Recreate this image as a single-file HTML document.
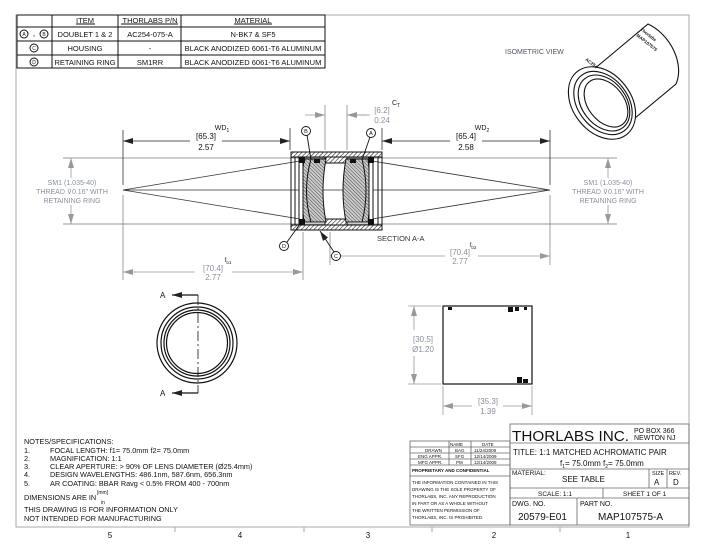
<!DOCTYPE html>
<html><head><meta charset="utf-8"><style>
html,body{margin:0;padding:0;background:#fff}
svg{display:block;font-family:"Liberation Sans",sans-serif}
.t{font-size:8px;fill:#111}
.g{font-size:8px;fill:#8a8fa0}
.s{font-size:5px;fill:#111}
</style></head><body>
<svg width="706" height="545" viewBox="0 0 706 545" xmlns="http://www.w3.org/2000/svg">
<defs>
<pattern id="h" width="3" height="3" patternUnits="userSpaceOnUse" patternTransform="rotate(45)"><rect width="3" height="3" fill="#fff"/><line x1="0" y1="0" x2="0" y2="3" stroke="#222" stroke-width="1.2"/></pattern>
<pattern id="h2" width="2.5" height="2.5" patternUnits="userSpaceOnUse" patternTransform="rotate(-45)"><rect width="3" height="3" fill="#ccc"/><line x1="0" y1="0" x2="0" y2="3" stroke="#333" stroke-width="0.9"/></pattern>
<marker id="a" viewBox="0 0 10 6" refX="10" refY="3" markerWidth="10" markerHeight="6" orient="auto-start-reverse" markerUnits="userSpaceOnUse"><path d="M0,0L10,3L0,6z" fill="#222"/></marker>
<marker id="ag" viewBox="0 0 10 6" refX="10" refY="3" markerWidth="10" markerHeight="6" orient="auto-start-reverse" markerUnits="userSpaceOnUse"><path d="M0,0L10,3L0,6z" fill="#999"/></marker>
</defs>
<path d="M16,15H689V527H16Z" fill="none" stroke="#aaa" stroke-width="1"/>
<g stroke="#111" stroke-width="1" fill="none">
<rect x="17" y="15" width="308" height="53"/>
<line x1="17" y1="27" x2="325" y2="27"/><line x1="17" y1="41" x2="325" y2="41"/><line x1="17" y1="55" x2="325" y2="55"/>
<line x1="52" y1="15" x2="52" y2="68"/><line x1="118" y1="15" x2="118" y2="68"/><line x1="181" y1="15" x2="181" y2="68"/>
<circle cx="24" cy="34" r="4"/><circle cx="44" cy="34" r="4"/><circle cx="34" cy="48" r="4"/><circle cx="34" cy="62" r="4"/>
<line x1="76" y1="24" x2="95" y2="24"/><line x1="121" y1="24" x2="178" y2="24"/><line x1="234" y1="24" x2="272" y2="24"/>
</g>
<g class="s" text-anchor="middle" style="font-size:5px"><text x="24" y="36">A</text><text x="44" y="36">B</text><text x="34" y="50">C</text><text x="34" y="64">D</text></g>
<text x="34" y="36" class="t" text-anchor="middle">,</text>
<g class="t" text-anchor="middle" style="font-size:7.5px">
<text x="85" y="23">ITEM</text><text x="150" y="23">THORLABS P/N</text><text x="253" y="23">MATERIAL</text>
<text x="85" y="37">DOUBLET 1 &amp; 2</text><text x="150" y="37">AC254-075-A</text><text x="253" y="37">N-BK7 &amp; SF5</text>
<text x="85" y="51">HOUSING</text><text x="150" y="51">-</text><text x="253" y="51">BLACK ANODIZED 6061-T6 ALUMINUM</text>
<text x="85" y="65">RETAINING RING</text><text x="150" y="65">SM1RR</text><text x="253" y="65">BLACK ANODIZED 6061-T6 ALUMINUM</text>
</g>
<text x="505" y="54" class="g" style="font-size:7px;fill:#556">ISOMETRIC VIEW</text>
<g fill="#fff" stroke="#111" stroke-width="1.1">
<path d="M587,75 L648,24 A30,42 -35 0 1 676,84 L623,128 Z"/>
<ellipse cx="602" cy="103" rx="29" ry="40" transform="rotate(-38 602 103)"/>
<ellipse cx="603" cy="103" rx="25" ry="35" transform="rotate(-38 603 103)"/>
<ellipse cx="604" cy="103" rx="22" ry="31" transform="rotate(-38 604 103)"/>
<ellipse cx="606" cy="103" rx="18" ry="27" transform="rotate(-38 606 103)"/>
</g>
<g fill="#111" font-size="4.5" font-weight="bold"><text x="640" y="30" transform="rotate(38 640 30)">Thorlabs</text><text x="636" y="36" transform="rotate(38 636 36)">MAP107575</text><text x="585" y="60" transform="rotate(38 585 60)">AC254</text></g>
<g stroke="#333" stroke-width="0.8" fill="none">
<line x1="123" y1="190" x2="550" y2="190"/>
<line x1="63" y1="158" x2="617" y2="158" stroke="#777"/>
<line x1="63" y1="224" x2="617" y2="224" stroke="#777"/>
<line x1="123" y1="130" x2="123" y2="185"/><line x1="123" y1="195" x2="123" y2="280" stroke="#888"/>
<line x1="550" y1="130" x2="550" y2="185"/><line x1="550" y1="195" x2="550" y2="265" stroke="#888"/>
<line x1="290" y1="128" x2="290" y2="150"/><line x1="382" y1="128" x2="382" y2="150"/>
<line x1="325" y1="105" x2="325" y2="150" stroke="#888"/><line x1="347" y1="105" x2="347" y2="150" stroke="#888"/>
<line x1="303" y1="232" x2="303" y2="280" stroke="#888"/><line x1="330" y1="232" x2="330" y2="265" stroke="#888"/>
<line x1="123" y1="190" x2="300" y2="161"/><line x1="123" y1="190" x2="300" y2="219"/>
<line x1="550" y1="190" x2="372" y2="161"/><line x1="550" y1="190" x2="372" y2="219"/>
</g>
<g stroke="#222" stroke-width="0.8">
<line x1="123" y1="141" x2="190" y2="141" marker-start="url(#a)"/><line x1="222" y1="141" x2="290" y2="141" marker-end="url(#a)"/>
<line x1="382" y1="141" x2="450" y2="141" marker-start="url(#a)"/><line x1="482" y1="141" x2="550" y2="141" marker-end="url(#a)"/>
</g>
<g stroke="#999" stroke-width="0.8">
<line x1="305" y1="115" x2="325" y2="115" marker-end="url(#ag)"/><line x1="367" y1="115" x2="347" y2="115" marker-end="url(#ag)"/><line x1="347" y1="115" x2="370" y2="115"/>
<line x1="123" y1="272" x2="195" y2="272" marker-start="url(#ag)"/><line x1="232" y1="272" x2="303" y2="272" marker-end="url(#ag)"/>
<line x1="330" y1="256" x2="445" y2="256" marker-start="url(#ag)"/><line x1="478" y1="256" x2="550" y2="256" marker-end="url(#ag)"/>
<line x1="71" y1="158" x2="71" y2="178" marker-start="url(#ag)"/><line x1="71" y1="205" x2="71" y2="224" marker-end="url(#ag)"/>
<line x1="608" y1="158" x2="608" y2="178" marker-start="url(#ag)"/><line x1="608" y1="205" x2="608" y2="224" marker-end="url(#ag)"/>
</g>
<g class="t" text-anchor="middle" style="font-size:8px">
<text x="206" y="139">[65.3]</text><text x="206" y="150">2.57</text><text x="222" y="130" style="font-size:7px">WD<tspan font-size="5" dy="2">1</tspan></text>
<text x="466" y="139">[65.4]</text><text x="466" y="150">2.58</text><text x="482" y="130" style="font-size:7px">WD<tspan font-size="5" dy="2">2</tspan></text>
</g>
<g class="g" text-anchor="middle" style="font-size:8px">
<text x="382" y="113">[6.2]</text><text x="382" y="123">0.24</text><text x="396" y="105" style="font-size:7px;fill:#222">C<tspan font-size="5" dy="2">T</tspan></text>
<text x="213" y="271">[70.4]</text><text x="213" y="280">2.77</text><text x="228" y="262" style="font-size:6px;fill:#222">f<tspan font-size="4.5" dy="2">b1</tspan></text>
<text x="460" y="255">[70.4]</text><text x="460" y="264">2.77</text><text x="473" y="247" style="font-size:6px;fill:#222">f<tspan font-size="4.5" dy="2">b2</tspan></text>
<text x="72" y="185" style="font-size:7px">SM1 (1.035-40)</text><text x="72" y="194" style="font-size:7px">THREAD ⊽0.16" WITH</text><text x="72" y="203" style="font-size:7px">RETAINING RING</text>
<text x="608" y="185" style="font-size:7px">SM1 (1.035-40)</text><text x="608" y="194" style="font-size:7px">THREAD ⊽0.16" WITH</text><text x="608" y="203" style="font-size:7px">RETAINING RING</text>
</g>
<text x="377" y="241" class="t" style="font-size:7.5px;fill:#334">SECTION A-A</text>
<g stroke="#111" stroke-width="1">
<rect x="291" y="152" width="91" height="5" fill="url(#h)"/>
<rect x="291" y="225" width="91" height="5" fill="url(#h)"/>
<rect x="325" y="157" width="22" height="6" fill="url(#h)"/>
<rect x="325" y="219" width="22" height="6" fill="url(#h)"/>
<line x1="291" y1="152" x2="291" y2="230"/><line x1="382" y1="152" x2="382" y2="230"/>
<line x1="295" y1="157" x2="295" y2="225"/><line x1="378" y1="157" x2="378" y2="225"/>
<path d="M304,159 H326 Q320,191 326,222 H304 Q300,191 304,159Z" fill="url(#h2)"/>
<path d="M311,159 Q302,191 311,222" fill="none"/>
<path d="M346,159 H368 Q372,191 368,222 H346 Q340,191 346,159Z" fill="url(#h2)"/>
<path d="M362,159 Q370,191 362,222" fill="none"/>
<rect x="299" y="158" width="4" height="66" fill="#fff"/><rect x="369" y="158" width="4" height="66" fill="#fff"/>
</g>
<g fill="#111"><rect x="299" y="157" width="6" height="6"/><rect x="299" y="219" width="6" height="6"/><rect x="368" y="157" width="6" height="6"/><rect x="368" y="219" width="6" height="6"/><rect x="314" y="159" width="6" height="4"/><rect x="350" y="159" width="6" height="4"/></g>
<g stroke="#111" stroke-width="0.9" fill="#fff">
<line x1="307" y1="135" x2="311" y2="160"/><line x1="370" y1="137" x2="362" y2="160"/>
<line x1="287" y1="242" x2="300" y2="224"/><line x1="334" y1="252" x2="320" y2="231" marker-end="url(#a)"/>
<circle cx="306" cy="131" r="4.5"/><circle cx="371" cy="133" r="4.5"/><circle cx="284" cy="246" r="4.5"/><circle cx="336" cy="256" r="4.5"/>
</g>
<g class="s" text-anchor="middle" style="font-size:5.5px"><text x="306" y="133">B</text><text x="371" y="135">A</text><text x="284" y="248">D</text><text x="336" y="258">C</text></g>
<g stroke="#111" stroke-width="1.2" fill="none">
<circle cx="197" cy="343" r="40"/><circle cx="197" cy="343" r="36"/><circle cx="197" cy="343" r="33"/><circle cx="197" cy="343" r="30.5"/>
<path d="M198,295 H172" marker-end="url(#a)"/><path d="M198,393 H172" marker-end="url(#a)"/>
<line x1="198" y1="295" x2="198" y2="393" stroke-dasharray="10,3,2,3" stroke-width="0.8"/>
</g>
<text x="160" y="298" class="t">A</text><text x="160" y="396" class="t">A</text>
<rect x="443" y="306" width="89" height="78" fill="#fff" stroke="#111" stroke-width="1.2"/>
<g fill="#111"><rect x="448" y="307" width="4" height="3"/><rect x="508" y="307" width="5" height="5"/><rect x="515" y="307" width="4" height="4"/><rect x="524" y="307" width="3" height="3"/><rect x="517" y="377" width="5" height="6"/><rect x="523" y="379" width="5" height="4"/></g>
<g stroke="#999" stroke-width="0.8">
<line x1="408" y1="306" x2="441" y2="306"/><line x1="408" y1="384" x2="441" y2="384"/>
<line x1="414" y1="306" x2="414" y2="330" marker-start="url(#ag)"/><line x1="414" y1="356" x2="414" y2="384" marker-end="url(#ag)"/>
<line x1="443" y1="386" x2="443" y2="415"/><line x1="532" y1="386" x2="532" y2="415"/>
<line x1="443" y1="406" x2="472" y2="406" marker-start="url(#ag)"/><line x1="503" y1="406" x2="532" y2="406" marker-end="url(#ag)"/>
</g>
<g class="g" text-anchor="middle"><text x="423" y="342">[30.5]</text><text x="423" y="352">Ø1.20</text><text x="488" y="404">[35.3]</text><text x="488" y="414">1.39</text></g>
<g class="t" style="font-size:7.3px">
<text x="24" y="444">NOTES/SPECIFICATIONS:</text>
<text x="24" y="453">1.</text><text x="50" y="453">FOCAL LENGTH: f1= 75.0mm   f2= 75.0mm</text>
<text x="24" y="461">2.</text><text x="50" y="461">MAGNIFICATION:  1:1</text>
<text x="24" y="469">3.</text><text x="50" y="469">CLEAR APERTURE: &gt; 90% OF LENS DIAMETER (Ø25.4mm)</text>
<text x="24" y="477">4.</text><text x="50" y="477">DESIGN WAVELENGTHS: 486.1nm, 587.6nm, 656.3nm</text>
<text x="24" y="486">5.</text><text x="50" y="486">AR COATING: BBAR Ravg &lt; 0.5% FROM 400 - 700nm</text>
<text x="24" y="500">DIMENSIONS ARE IN</text><text x="97" y="494" style="font-size:5px">[mm]</text><text x="101" y="504" style="font-size:5px">in</text>
<text x="24" y="512">THIS DRAWING IS FOR INFORMATION ONLY</text>
<text x="24" y="521">NOT INTENDED FOR MANUFACTURING</text>
</g>
<g stroke="#666" stroke-width="0.8" fill="none">
<rect x="510" y="424" width="179" height="101"/>
<line x1="510" y1="443" x2="689" y2="443"/><line x1="510" y1="469" x2="689" y2="469"/><line x1="510" y1="488" x2="689" y2="488"/><line x1="510" y1="498" x2="689" y2="498"/>
<line x1="649" y1="469" x2="649" y2="488"/><line x1="667" y1="469" x2="667" y2="488"/><line x1="603" y1="488" x2="603" y2="498"/><line x1="577" y1="498" x2="577" y2="525"/>
<rect x="410" y="441" width="100" height="84"/>
<line x1="410" y1="447" x2="510" y2="447"/><line x1="410" y1="453" x2="510" y2="453"/><line x1="410" y1="459" x2="510" y2="459"/><line x1="410" y1="465" x2="510" y2="465"/><line x1="410" y1="476" x2="510" y2="476"/>
<line x1="449" y1="441" x2="449" y2="465"/><line x1="471" y1="441" x2="471" y2="465"/>
</g>
<g class="t">
<text x="512" y="441" style="font-size:15px" textLength="117" lengthAdjust="spacingAndGlyphs">THORLABS INC.</text>
<text x="634" y="433" style="font-size:7px">PO BOX 366</text><text x="634" y="440" style="font-size:7px">NEWTON NJ</text>
<text x="513" y="455" style="font-size:8px">TITLE:  1:1 MATCHED ACHROMATIC PAIR</text>
<text x="560" y="466" style="font-size:8px">f<tspan font-size="5" dy="2">1</tspan><tspan dy="-2">= 75.0mm  f</tspan><tspan font-size="5" dy="2">2</tspan><tspan dy="-2">= 75.0mm</tspan></text>
<text x="512" y="475" style="font-size:6.5px">MATERIAL:</text><text x="562" y="482" style="font-size:8px">SEE TABLE</text>
<text x="652" y="475" style="font-size:5.5px">SIZE</text><text x="654" y="485" style="font-size:8px">A</text>
<text x="669" y="475" style="font-size:5.5px">REV.</text><text x="673" y="485" style="font-size:8px">D</text>
<text x="538" y="496" style="font-size:6.5px">SCALE: 1:1</text><text x="623" y="496" style="font-size:6.5px">SHEET 1 OF 1</text>
<text x="512" y="506" style="font-size:7px">DWG. NO.</text><text x="518" y="520" style="font-size:10px">20579-E01</text>
<text x="580" y="506" style="font-size:7px">PART NO.</text><text x="598" y="520" style="font-size:10px">MAP107575-A</text>
</g>
<g class="t" style="font-size:4.5px">
<text x="450" y="446">NAME</text><text x="482" y="446">DATE</text>
<text x="425" y="452">DRAWN</text><text x="455" y="452">BAG</text><text x="474" y="452">11/24/2009</text>
<text x="418" y="458">ENG APPR.</text><text x="455" y="458">SFG</text><text x="474" y="458">12/14/2009</text>
<text x="418" y="464">MFG APPR.</text><text x="456" y="464">PM</text><text x="474" y="464">12/14/2009</text>
<text x="412" y="472" font-weight="bold">PROPRIETARY AND CONFIDENTIAL</text>
<text x="412" y="484">THE INFORMATION CONTAINED IN THIS</text>
<text x="412" y="491">DRAWING IS THE SOLE PROPERTY OF</text>
<text x="412" y="498">THORLABS, INC.  ANY REPRODUCTION</text>
<text x="412" y="505">IN PART OR AS A WHOLE WITHOUT</text>
<text x="412" y="512">THE WRITTEN PERMISSION OF</text>
<text x="412" y="519">THORLABS, INC. IS PROHIBITED.</text>
</g>
<g class="t" style="font-size:8px" text-anchor="middle"><text x="110" y="538">5</text><text x="240" y="538">4</text><text x="368" y="538">3</text><text x="494" y="538">2</text><text x="628" y="538">1</text></g>
<g stroke="#aaa"><line x1="175" y1="527" x2="175" y2="532"/><line x1="304" y1="527" x2="304" y2="532"/><line x1="432" y1="527" x2="432" y2="532"/><line x1="560" y1="527" x2="560" y2="532"/></g>
</svg>
</body></html>
